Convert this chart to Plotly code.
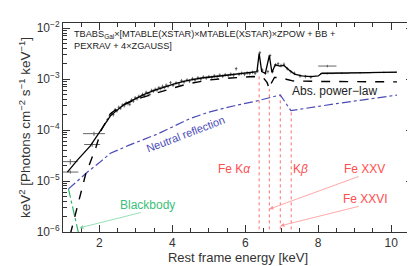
import plotly.graph_objects as go

# ---------------- data ----------------
# total model (solid)
model_e = [1.12, 1.4, 1.75, 2.03, 2.3, 2.68, 3.0, 3.23, 3.5, 3.78, 4.1, 4.4, 4.8, 5.3, 5.8, 6.2, 6.32,
           6.38, 6.45, 6.55, 6.66, 6.73, 6.82, 6.95, 7.06, 7.2, 7.35, 7.55, 7.8, 8.0, 8.1, 9.0, 10.16]
model_v = [1.5e-5, 2.6e-5, 4.9e-5, 1.0e-4, 1.9e-4, 3.2e-4, 4.2e-4, 5.0e-4, 6.0e-4, 7.0e-4, 8.2e-4, 9.3e-4,
           1.05e-3, 1.15e-3, 1.25e-3, 1.35e-3, 1.4e-3, 3.2e-3, 1.4e-3, 1.3e-3, 2.9e-3, 1.35e-3, 1.9e-3,
           1.8e-3, 1.85e-3, 1.5e-3, 1.25e-3, 1.15e-3, 1.12e-3, 1.15e-3, 1.3e-3, 1.32e-3, 1.37e-3]

# absorbed power law (dashed)
pl_e = [1.2, 1.62, 1.9, 2.05, 2.3, 2.6, 3.0, 3.5, 4.0, 4.4, 5.0, 5.6, 6.24, 6.5, 6.6, 6.66, 6.72, 6.8,
        7.0, 7.15, 7.3, 8.0, 10.16]
pl_v = [9e-7, 1.35e-5, 4.5e-5, 1.0e-4, 2.1e-4, 3.0e-4, 4.0e-4, 5.2e-4, 6.6e-4, 8.0e-4, 9.6e-4, 1.05e-3,
        1.12e-3, 1.05e-3, 8.5e-4, 6.4e-4, 8.5e-4, 1.08e-3, 1.05e-3, 0.98e-3, 0.92e-3, 0.9e-3, 0.88e-3]

# neutral reflection (blue dash-dot)
refl_e = [1.15, 1.67, 2.0, 2.3, 2.8, 3.3, 3.6, 4.0, 4.5, 5.0, 5.7, 6.3, 6.96, 7.25, 8.5, 10.16]
refl_v = [7e-6, 1.5e-5, 2.3e-5, 3.5e-5, 5.0e-5, 6.8e-5, 8.4e-5, 1.15e-4, 1.7e-4, 2.25e-4, 3.0e-4,
          3.7e-4, 4.9e-4, 2.4e-4, 3.3e-4, 4.85e-4]

# blackbody (green dash-dot)
bb_e = [1.15, 1.45]
bb_v = [7e-6, 8e-7]

# binned spectrum (dense part)
data_e = [2.22, 2.28, 2.33, 2.38, 2.43, 2.48, 2.53, 2.58, 2.63, 2.68, 2.73, 2.78, 2.83, 2.88, 2.93, 2.98,
          3.03, 3.08, 3.13, 3.18, 3.23, 3.28, 3.33, 3.38, 3.43, 3.48, 3.53, 3.58, 3.63, 3.68, 3.73, 3.78,
          3.83, 3.88, 3.95, 4.02, 4.1, 4.18, 4.25, 4.32, 4.4, 4.47, 4.55, 4.62, 4.7, 4.78, 4.85, 4.93,
          5.0, 5.08, 5.15, 5.23, 5.3, 5.38, 5.45, 5.53, 5.6, 5.68, 5.75, 5.83, 5.9, 5.98, 6.05, 6.12,
          6.2, 6.27, 6.34, 6.4, 6.47, 6.55, 6.62, 6.68, 6.75, 6.83, 6.9, 6.98, 7.06, 7.15, 7.25, 7.35,
          7.5, 7.65, 7.8]
data_v = [1.6e-4, 1.9e-4, 2.1e-4, 2.0e-4, 2.5e-4, 2.4e-4, 2.8e-4, 2.7e-4, 3.1e-4, 3.0e-4, 3.4e-4, 3.3e-4,
          3.2e-4, 3.9e-4, 3.7e-4, 4.3e-4, 4.1e-4, 4.6e-4, 4.4e-4, 5.0e-4, 4.7e-4, 5.5e-4, 5.2e-4, 5.0e-4,
          6.0e-4, 5.8e-4, 6.3e-4, 6.1e-4, 6.8e-4, 6.5e-4, 7.2e-4, 6.8e-4, 7.6e-4, 7.2e-4, 8.5e-4, 7.6e-4,
          8.4e-4, 8.0e-4, 9.3e-4, 8.8e-4, 9.6e-4, 9.1e-4, 1.02e-3, 9.6e-4, 1.06e-3, 1.0e-3, 1.1e-3,
          1.05e-3, 1.12e-3, 1.08e-3, 1.16e-3, 1.12e-3, 1.2e-3, 1.14e-3, 1.22e-3, 1.17e-3, 1.25e-3, 1.2e-3,
          1.6e-3, 1.25e-3, 1.3e-3, 1.24e-3, 1.32e-3, 1.28e-3, 1.36e-3, 1.3e-3, 1.45e-3, 3.3e-3, 1.5e-3,
          1.3e-3, 1.4e-3, 2.9e-3, 1.4e-3, 1.9e-3, 2.0e-3, 1.85e-3, 1.95e-3, 1.6e-3, 1.4e-3, 1.3e-3,
          1.15e-3, 1.12e-3, 1.1e-3]

# wide bins (low and high energy)
wide_e = [1.2, 1.2, 1.8, 1.85, 8.25, 8.25, 8.65, 9.15, 9.8]
wide_ex = [0.22, 0.2, 0.22, 0.3, 0.25, 0.2, 0.2, 0.3, 0.35]
wide_v = [1.5e-5, 2.4e-5, 5.2e-5, 8.5e-5, 1.8e-3, 1.28e-3, 1.3e-3, 1.33e-3, 1.35e-3]
wide_ev = [0.1e-5, 0.3e-5, 0.5e-5, 0.8e-5, 0.1e-3, 0.05e-3, 0.05e-3, 0.05e-3, 0.05e-3]

# iron lines (red dotted)
line_e = [6.38, 6.66, 6.96, 7.26]
line_top = [1.3e-3, 6.4e-4, 4.9e-4, 2.4e-4]

ytick_vals = [1e-6, 1e-5, 1e-4, 1e-3, 1e-2]
ytick_text = ["10<sup>−6</sup>", "10<sup>−5</sup>", "10<sup>−4</sup>", "10<sup>−3</sup>", "10<sup>−2</sup>"]
xtick_vals = [2, 4, 6, 8, 10]

FONT = "Liberation Sans"
fig = go.Figure()

# red dotted lines
lx, ly = [], []
for e, t in zip(line_e, line_top):
    lx += [e, e, None]
    ly += [5e-7, t, None]
fig.add_trace(go.Scatter(x=lx, y=ly, mode="lines",
                         line=dict(color="#ff7070", width=1, dash="dot"), hoverinfo="skip"))

fig.add_trace(go.Scatter(x=refl_e, y=refl_v, mode="lines",
                         line=dict(color="#4a4ab8", width=1.2, dash="dashdot")))
fig.add_trace(go.Scatter(x=bb_e, y=bb_v, mode="lines",
                         line=dict(color="#2fb36a", width=1.2, dash="dashdot")))

fig.add_trace(go.Scatter(x=data_e, y=data_v, mode="markers", marker=dict(size=1, color="#444"),
                         error_x=dict(type="constant", value=0.035, color="#555", thickness=0.8, width=0),
                         error_y=dict(type="percent", value=8, color="#555", thickness=0.8, width=0)))
fig.add_trace(go.Scatter(x=wide_e, y=wide_v, mode="markers", marker=dict(size=1, color="#444"),
                         error_x=dict(type="data", array=wide_ex, color="#666", thickness=1, width=0),
                         error_y=dict(type="data", array=wide_ev, color="#666", thickness=1, width=0)))

fig.add_trace(go.Scatter(x=pl_e, y=pl_v, mode="lines",
                         line=dict(color="black", width=1.4, dash="dash")))
fig.add_trace(go.Scatter(x=model_e, y=model_v, mode="lines",
                         line=dict(color="black", width=1.3)))

RED = "#ff4d4d"
ann = []
ann.append(dict(x=1.25, y=-1.97, xref="x", yref="y", xanchor="left", yanchor="top", align="left",
                text="TBABS<sub>Gal</sub>×[MTABLE(XSTAR)×MTABLE(XSTAR)×ZPOW + BB +<br>PEXRAV + 4×ZGAUSS]",
                showarrow=False, font=dict(family=FONT, size=9.2, color="#222")))
ann.append(dict(x=8.45, y=-3.24, text="Abs. power−law", showarrow=False,
                font=dict(family=FONT, size=12, color="#222")))
ann.append(dict(x=4.36, y=-4.08, text="Neutral reflection", showarrow=False, textangle=-21,
                font=dict(family=FONT, size=11, color="#4a4ab8")))
ann.append(dict(x=3.32, y=-5.47, text="Blackbody", showarrow=False,
                font=dict(family=FONT, size=12, color="#3cbf78")))
ann.append(dict(x=5.70, y=-4.76, text="Fe K<i>α</i>", showarrow=False,
                font=dict(family=FONT, size=12, color=RED)))
ann.append(dict(x=7.51, y=-4.76, text="K<i>β</i>", showarrow=False,
                font=dict(family=FONT, size=12, color=RED)))
ann.append(dict(x=9.26, y=-4.76, text="Fe XXV", showarrow=False,
                font=dict(family=FONT, size=12, color=RED)))
ann.append(dict(x=9.29, y=-5.35, text="Fe XXVI", showarrow=False,
                font=dict(family=FONT, size=12, color=RED)))
# arrows
for (tx, ty, hx, hy, col) in [(3.18, -5.61, 1.45, -5.92, "#7fd6a4"),
                              (9.15, -4.90, 6.66, -5.55, "#ff9090"),
                              (9.15, -5.49, 6.96, -5.88, "#ff9090")]:
    ann.append(dict(x=hx, y=hy, ax=tx, ay=ty, xref="x", yref="y", axref="x", ayref="y",
                    text="", showarrow=True, arrowhead=2, arrowsize=1, arrowwidth=0.8, arrowcolor=col))

axis_common = dict(showline=True, linecolor="#333", linewidth=1, mirror="allticks",
                   ticks="inside", tickcolor="#333", showgrid=False, zeroline=False, automargin=False,
                   tickfont=dict(family=FONT, size=12, color="#333"))

fig.update_layout(
    width=415, height=266, margin=dict(l=55, r=10, t=15, b=42),
    paper_bgcolor="white", plot_bgcolor="white", showlegend=False,
    annotations=ann,
    xaxis=dict(range=[1.0, 10.6], tickvals=xtick_vals, ticklen=7,
               minor=dict(dtick=0.5, ticks="inside", ticklen=4, tickcolor="#333"),
               title=dict(text="Rest frame energy [keV]", standoff=0,
                          font=dict(family=FONT, size=13, color="#333")),
               **axis_common),
    yaxis=dict(type="log", range=[-6.0, -1.9], tickvals=ytick_vals, ticktext=ytick_text, ticklen=7,
               minor=dict(ticks="inside", ticklen=4, tickcolor="#333", dtick="D1"),
               title=dict(text="keV<sup>2</sup> [Photons cm<sup>−2</sup> s<sup>−1</sup> keV<sup>−1</sup>]",
                          standoff=2, font=dict(family=FONT, size=13.5, color="#333")),
               **axis_common),
)

fig.write_html("out.html")
